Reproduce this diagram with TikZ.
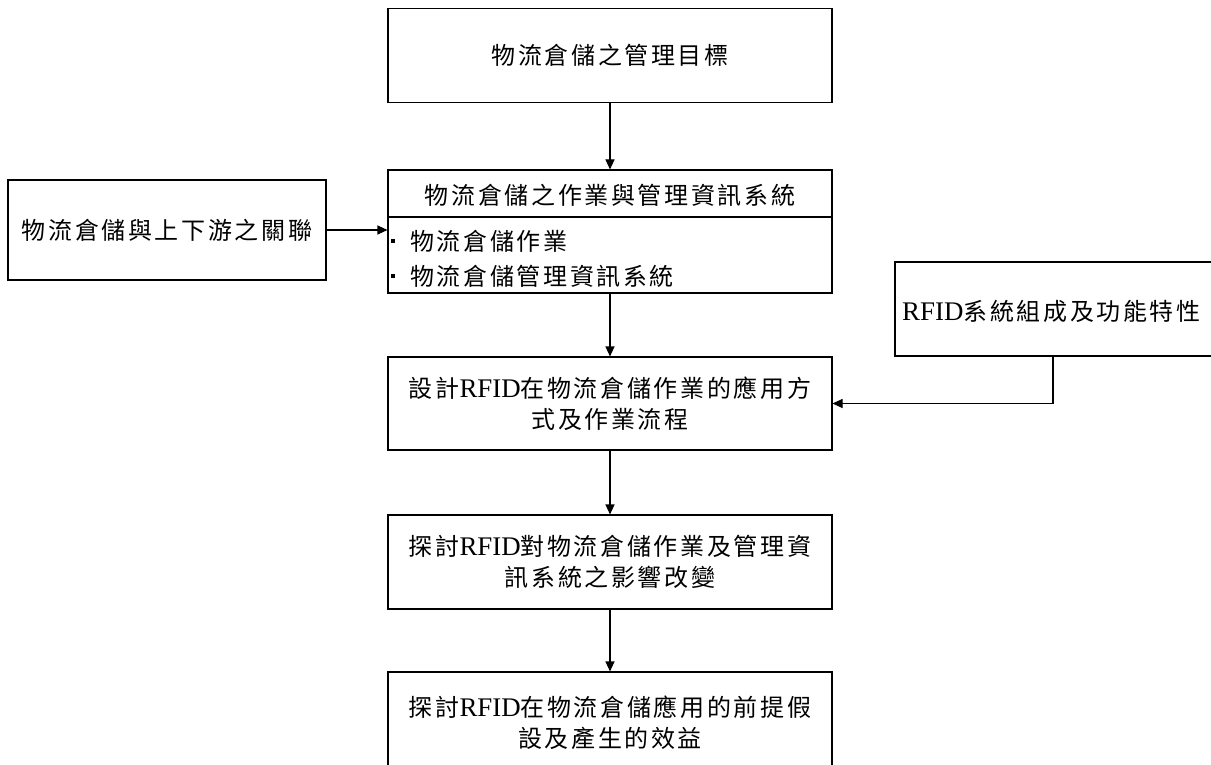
\documentclass[tikz,border=0pt]{standalone}
\usepackage{fontspec}
\setmainfont{Noto Sans CJK TC}[LetterSpace=11]
\newfontfamily\lat{Liberation Serif}[Scale=1.12]
\newcommand\rf{{\lat RFID}}
\newcommand\blt{\raisebox{7pt}{\rule{4pt}{4pt}}\hspace{15pt}}
\usetikzlibrary{arrows.meta}
\begin{document}
\begin{tikzpicture}[x=1pt,y=-1pt,
  box/.style={draw, line width=1.1pt, minimum width=444pt, inner sep=0pt,
    font=\fontsize{24}{31}\selectfont, align=center},
  lbl/.style={font=\fontsize{24}{31}\selectfont, align=center, inner sep=0pt},
  arr/.style={line width=1.1pt, -{Triangle[length=10pt,width=9pt]}},
  ln/.style={line width=1.1pt}]
\useasboundingbox (0,0) rectangle (1211,765);
\clip (0,0) rectangle (1211,765);
% boxes
\node[box, minimum height=94pt] (b1) at (610,55.5) {物流倉儲之管理目標};
\node[box, minimum height=123pt] (b2) at (610,231.5) {};
\node[lbl] (t2) at (610,195) {物流倉儲之作業與管理資訊系統};
\node[lbl, anchor=west] (p1) at (391,241) {\blt 物流倉儲作業};
\node[lbl, anchor=west] (p2) at (391,276) {\blt 物流倉儲管理資訊系統};
\coordinate (d) at (0,217);
\draw[ln] (b2.west |- d) -- (b2.east |- d);
\node[box, minimum width=318pt, minimum height=100pt] (left) at (167,230) {物流倉儲與上下游之關聯};
\node[box, minimum width=345pt, minimum height=94pt] (rfid) at (1067.5,309) {};
\node[lbl, anchor=west] (trfid) at (902,311) {\rf 系統組成及功能特性};
\node[box, minimum height=93pt] (b3) at (610,403.5) {設計\rf 在物流倉儲作業的應用方\\式及作業流程};
\node[box, minimum height=94pt] (b4) at (610,562) {探討\rf 對物流倉儲作業及管理資\\訊系統之影響改變};
\node[box, minimum height=128pt] (b5) at (610,736) {};
\node[lbl] (t5) at (610,723) {探討\rf 在物流倉儲應用的前提假\\設及產生的效益};
% connectors
\draw[arr] (b1.south) -- (b2.north);
\draw[arr] (b2.south) -- (b3.north);
\draw[arr] (b3.south) -- (b4.north);
\draw[arr] (b4.south) -- (b5.north);
\draw[arr] (left.east) -- (b2.west |- left.east);
\coordinate (c1) at (1053,403.5);
\draw[arr] (rfid.south -| c1) -- (c1) -- (b3.east);
\end{tikzpicture}
\end{document}
